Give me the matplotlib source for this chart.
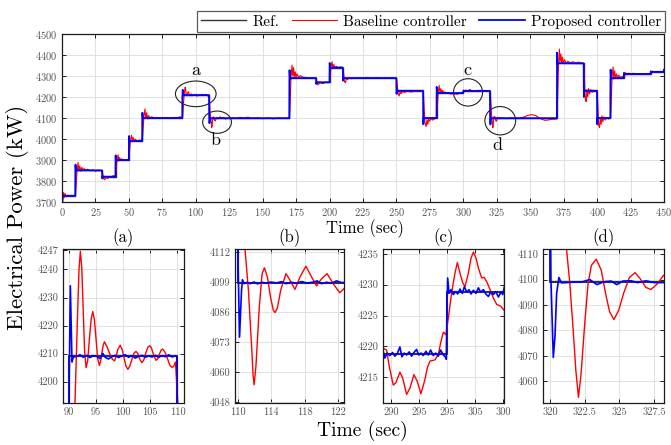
import numpy as np
import matplotlib
matplotlib.use('Agg')
import matplotlib.pyplot as plt
from matplotlib.patches import Ellipse

# LaTeX-like look
plt.rcParams['font.family'] = 'serif'
plt.rcParams['font.serif'] = ['cmr10']
plt.rcParams['mathtext.fontset'] = 'cm'
plt.rcParams['axes.formatter.use_mathtext'] = True

# Reference power set-points (kW), step-post
ref_t = [0, 10, 30, 40, 50, 60, 90, 110, 170, 190, 200, 210, 250, 270, 280, 300,
         320, 370, 390, 400, 410, 420, 440, 450]
ref_p = [3730, 3850, 3820, 3900, 3990, 4100, 4209, 4098.9, 4290, 4270, 4340, 4290,
         4230, 4100, 4218.8, 4228.9, 4098.9, 4360, 4230, 4100, 4290, 4310, 4320, 4320]

# Baseline controller, points
base_t = [0, 0.6, 1.2, 1.8, 2.4, 3.2, 4.2, 5.5, 7, 9.9,
          10.3, 11.2, 12.0, 12.6, 13.3, 14.0, 14.8, 15.6, 16.5, 17.5, 19, 21, 23, 25, 27, 29.9,
          30.4, 31.2, 32.0, 32.8, 34, 35.5, 37, 38.5, 39.9,
          40.3, 41.2, 41.9, 42.5, 43.1, 43.8, 44.6, 46, 48, 49.9,
          50.3, 51.2, 51.9, 52.5, 53.1, 53.8, 54.6, 56, 58, 59.9,
          60.3, 61.2, 62.0, 62.6, 63.3, 64.0, 64.8, 65.7, 67, 69, 72, 75, 78, 81, 84, 86, 88, 90.0,
          124, 126, 128, 130, 133, 136, 139, 142, 146, 150, 154, 158, 162, 166, 169.9,
          170.3, 171.2, 171.9, 172.5, 173.1, 173.7, 174.3, 175, 175.8, 176.8, 178, 180, 183, 186, 189.9,
          190.4, 191.2, 192, 193, 195, 197, 199.9,
          200.3, 201.2, 201.9, 202.5, 203.2, 204, 205, 206.5, 208, 209.9,
          210.4, 211.2, 211.9, 212.6, 213.3, 214.5, 216, 220, 224, 228, 232, 236, 240, 245, 249.9,
          250.4, 251.3, 252, 252.8, 253.5, 254.5, 256, 258, 261, 264, 267, 269.9,
          270.4, 271.3, 272.2, 272.8, 273.4, 274.1, 274.8, 275.8, 277, 278.5, 279.9,
          280.3, 281.2, 281.9, 282.5, 283.1, 283.8, 284.5, 285.3, 286.2, 287.2, 288.0,
          311, 312.5, 314, 316, 318, 319.9, 320.05,
          329, 330, 332, 335, 338, 342, 345, 348, 351, 354, 357, 359, 361, 363, 366, 369.9,
          370.4, 371.2, 371.8, 372.3, 372.9, 373.5, 374.1, 374.8, 375.7, 376.8, 378, 380, 382, 384, 386, 389.9,
          390.4, 391.2, 391.8, 392.4, 393, 393.6, 394.3, 395.2, 396.3, 397.5, 398.8, 399.9,
          400.4, 401.2, 401.8, 402.4, 403, 403.6, 404.3, 405, 406, 407.2, 408.5, 409.9,
          410.3, 411.2, 411.9, 412.5, 413.1, 413.8, 414.5, 415.3, 416.3, 417.5, 418.8, 419.9,
          420.5, 421.3, 422.3, 423.5, 425, 427, 430, 433, 436, 439.9,
          440.5, 441.5, 443, 445, 447, 450]
base_p = [3700, 3712, 3745, 3722, 3740, 3726, 3733, 3729, 3731, 3730,
          3760, 3840, 3888, 3848, 3872, 3846, 3865, 3850, 3860, 3852, 3856, 3850, 3853, 3847, 3852, 3849,
          3835, 3810, 3806, 3818, 3812, 3818, 3822, 3825, 3826,
          3840, 3905, 3925, 3895, 3912, 3897, 3906, 3898, 3902, 3899,
          3930, 3995, 4018, 3990, 4008, 3988, 4000, 3991, 3995, 3992,
          4020, 4105, 4143, 4098, 4125, 4096, 4112, 4097, 4106, 4099, 4102, 4098, 4101, 4097, 4103, 4100, 4106, 4101,
          4100, 4096, 4101, 4098, 4103, 4100, 4104, 4098, 4101, 4097, 4100, 4096, 4100, 4098, 4100,
          4140, 4290, 4352, 4300, 4340, 4290, 4320, 4295, 4310, 4293, 4302, 4295, 4292, 4290, 4291,
          4275, 4258, 4262, 4268, 4264, 4270, 4269,
          4290, 4345, 4368, 4335, 4355, 4337, 4346, 4340, 4343, 4340,
          4320, 4272, 4268, 4290, 4282, 4292, 4287, 4291, 4289, 4293, 4290, 4292, 4289, 4291, 4290,
          4270, 4212, 4205, 4228, 4215, 4226, 4222, 4227, 4224, 4228, 4226, 4229,
          4180, 4080, 4059, 4092, 4070, 4095, 4085, 4098, 4090, 4096, 4099,
          4130, 4220, 4255, 4222, 4240, 4218, 4232, 4219, 4225, 4218, 4221,
          4225.5, 4227, 4231, 4229, 4231, 4229, 4229,
          4099, 4100, 4097, 4101, 4099, 4100, 4104, 4112, 4116, 4112, 4100, 4093, 4089, 4090, 4094, 4095,
          4180, 4360, 4428, 4368, 4405, 4360, 4390, 4362, 4378, 4360, 4370, 4363, 4368, 4362, 4366, 4360,
          4300, 4190, 4178, 4235, 4200, 4240, 4215, 4235, 4222, 4232, 4226, 4230,
          4180, 4065, 4054, 4098, 4070, 4110, 4082, 4105, 4090, 4102, 4095, 4100,
          4140, 4295, 4343, 4285, 4325, 4290, 4310, 4292, 4304, 4293, 4298, 4291,
          4300, 4316, 4306, 4314, 4308, 4313, 4309, 4312, 4308, 4311,
          4312, 4323, 4318, 4321, 4319, 4321]

# Baseline controller, detail (a) 90-110 s
base_a_t = [91.1, 91.6, 91.85, 92.1, 92.36, 92.62, 92.88, 93.15, 93.45, 93.76, 94.07, 94.38,
            94.7, 95.0, 95.3, 95.62, 95.85, 96.1, 96.3, 96.54, 97.0, 97.5, 98.0, 98.4,
            98.7, 99.0, 99.44, 99.8, 100.15, 100.5, 100.86, 101.2, 101.6, 102.0, 102.35,
            102.7, 103.1, 103.46, 103.8, 104.2, 104.55, 104.88, 105.2, 105.6, 106.05,
            106.35, 106.7, 107.0, 107.28, 107.7, 108.2, 108.6, 109.01, 109.3, 109.63, 110.12]
base_a_p = [4192, 4225, 4240, 4246.5, 4240.5, 4226, 4211, 4205, 4207.5, 4215, 4222, 4225,
            4222, 4215, 4208, 4205.8, 4207.5, 4210.5, 4213, 4214.2, 4212.5, 4210, 4208, 4207.4,
            4209, 4211.5, 4213, 4211.5, 4208.5, 4205.5, 4204.4, 4205.5, 4208, 4210.2, 4210.8,
            4210, 4207.8, 4206.8, 4207.8, 4210.5, 4212.3, 4212.8, 4212, 4209.5, 4207.6,
            4208.2, 4210, 4211.3, 4211.6, 4210.5, 4208, 4205.8, 4205.1, 4205.5, 4207, 4190]

# Baseline controller, detail (b) 110-123 s
base_b_t = [110.9, 111.3, 111.7, 111.86, 111.98, 112.2, 112.6, 112.93, 113.21, 113.56, 113.96,
            114.28, 114.48, 114.75, 115.15, 115.78, 116.26, 116.85, 117.45, 118.16, 118.83,
            119.43, 120.02, 120.69, 121.4, 122.2, 122.71]
base_b_p = [4113, 4095.7, 4070.3, 4059, 4055, 4063.2, 4088.6, 4102.8, 4105.3, 4101.4, 4092.2,
            4087, 4086.1, 4088, 4095.7, 4102.8, 4100, 4096, 4101.4, 4106, 4101.4,
            4097.5, 4100.6, 4102.8, 4098.5, 4094.6, 4096.4]

# Baseline controller, detail (c) 289-310 s
base_c_t = [288.63, 289.23, 289.7, 290.42, 290.89, 291.6, 292.08, 292.79, 293.38, 294.09,
            294.69, 295.34, 296.05, 296.47, 296.94, 297.83, 298.43, 298.9, 299.32, 299.79,
            300.21, 300.8, 301.39, 301.81, 302.28, 302.76, 303.18, 303.77, 304.24, 304.66,
            305.13, 305.55, 306.14, 306.56, 307.03, 307.63, 308.22, 308.81, 309.53, 310.18]
base_c_p = [4219.7, 4219.4, 4216.8, 4213.7, 4214.1, 4215.8, 4214.9, 4212.2, 4213.2, 4215.4,
            4214.3, 4212.3, 4214.6, 4216.5, 4217.6, 4217.8, 4218.7, 4220.8, 4222.3, 4221.9,
            4224.6, 4228.7, 4231.9, 4233.6, 4231.9, 4230.3, 4229.7, 4231.9, 4234.3, 4235.3,
            4234.3, 4232.7, 4231.1, 4231.2, 4230.5, 4229.2, 4227.8, 4226.8, 4226.5, 4225.8]

# Baseline controller, detail (d) 320-328 s
base_d_t = [321.19, 321.43, 321.67, 321.86, 322.05, 322.24, 322.5, 322.74, 322.98, 323.33,
            323.69, 324.0, 324.29, 324.6, 324.95, 325.29, 325.71, 326.12, 326.48, 326.9,
            327.26, 327.74, 328.17]
base_d_p = [4112, 4098.4, 4080.1, 4064.4, 4053.7, 4063.1, 4082.7, 4098.4, 4105.6, 4108,
            4103.7, 4094.5, 4087.3, 4084.3, 4088, 4094.5, 4100.8, 4102.7, 4100.4, 4096.9,
            4096.1, 4098.4, 4101.7]

# Proposed controller, overview
prop_t = [0, 0.3, 0.5, 0.9, 9.95, 10.1, 10.4, 10.7, 29.95, 30.1, 30.4, 39.95, 40.1, 40.4, 40.7,
          49.95, 50.1, 50.4, 50.7, 59.95, 60.1, 60.4, 60.7, 89.95,
          169.95, 170.1, 170.4, 170.7, 189.95, 190.1, 190.4, 190.7, 199.95, 200.1, 200.4, 200.7,
          209.95, 210.1, 210.4, 210.7, 249.95, 250.1, 250.4, 250.7, 269.95, 270.1, 270.4, 270.7,
          279.95, 280.1, 280.4, 280.7, 319.9,
          369.95, 370.1, 370.4, 370.7, 389.95, 390.1, 390.4, 390.7, 399.95, 400.1, 400.4, 400.7,
          409.95, 410.1, 410.4, 410.7, 419.95, 420.1, 420.4, 439.95, 440.1, 440.4, 449.6, 450]
prop_p = [3700, 3700, 3733, 3729, 3730, 3878, 3846, 3851, 3850, 3812, 3821, 3820, 3922, 3897, 3900,
          3900, 4014, 3987, 3990, 3990, 4125, 4097, 4100, 4100,
          4099, 4328, 4286, 4290, 4290, 4262, 4271, 4270, 4270, 4362, 4337, 4340,
          4340, 4278, 4292, 4290, 4290, 4215, 4232, 4230, 4230, 4070, 4103, 4100,
          4100, 4248, 4216, 4219, 4229,
          4099, 4411, 4355, 4361, 4360, 4200, 4233, 4230, 4230, 4070, 4103, 4100,
          4100, 4330, 4287, 4290, 4290, 4315, 4310, 4310, 4322, 4320, 4320, 4330]

# Proposed controller, detail (a)
prop_a_t = [90.05, 90.25, 90.56, 90.8, 91.42, 92.04, 92.65, 93.27, 93.89, 94.51, 95.12, 95.74,
            96.23, 96.67, 97.28, 97.9, 98.52, 99.14, 99.75, 100.37, 100.99, 101.6, 102.22,
            102.84, 103.46, 104.07, 104.69, 105.31, 105.93, 106.54, 107.16, 107.78, 108.4,
            109.01, 109.63, 109.94]
prop_a_p = [4200, 4234.2, 4207, 4208.8, 4209.0, 4209.6, 4208.7, 4209.4, 4208.6, 4209.3, 4209.0, 4208.2,
            4210.1, 4208.7, 4208.1, 4208.9, 4209.4, 4208.6, 4209.2, 4209.6, 4208.7, 4209.3, 4208.4,
            4209.0, 4209.4, 4208.7, 4209.2, 4208.8, 4209.4, 4208.7, 4209.3, 4208.9, 4209.6,
            4208.8, 4209.2, 4209.0]

# Proposed controller, detail (b)
prop_b_t = [110.08, 110.24, 110.48, 110.59, 110.79, 111.11, 111.5, 111.98, 112.38, 112.89,
            113.41, 113.96, 114.67, 115.27, 115.78, 116.34, 117.05, 117.64, 118.24, 118.95,
            119.5, 120.02, 120.61, 121.21, 121.8, 122.4]
prop_b_p = [4105, 4075.5, 4095.7, 4100.2, 4098.5, 4099.1, 4098.5, 4099.2, 4098.4, 4099.1,
            4098.7, 4099.2, 4098.8, 4099.4, 4098.5, 4099.1, 4098.7, 4099.4, 4098.8, 4099.1,
            4099.7, 4098.5, 4099.1, 4098.7, 4099.7, 4099.0]

# Proposed controller, detail (c)
prop_c_t = [288.63, 288.93, 289.35, 289.82, 290.3, 290.71, 291.13, 291.6, 291.96, 292.37,
            292.79, 293.26, 293.68, 294.09, 294.57, 294.93, 295.34, 295.76, 296.23, 296.65,
            297.06, 297.54, 297.95, 298.43, 298.84, 299.32, 299.67, 299.85, 299.97, 300.09,
            300.33, 300.68, 301.1, 301.51, 301.87, 302.28, 302.7, 303.06, 303.47, 303.89,
            304.24, 304.66, 305.13, 305.55, 305.96, 306.44, 306.85, 307.33, 307.74, 308.22,
            308.63, 309.11, 309.53, 309.88, 310.18]
prop_c_p = [4219.2, 4218.1, 4218.9, 4218.5, 4219.0, 4218.4, 4218.8, 4219.9, 4218.3, 4218.9,
            4218.6, 4219.1, 4218.4, 4219.0, 4219.5, 4218.6, 4218.9, 4218.5, 4219.2, 4218.6,
            4219.4, 4218.5, 4218.9, 4218.4, 4219.4, 4218.6, 4218.3, 4217.9, 4226.5, 4231.1,
            4228.6, 4229.2, 4228.4, 4228.9, 4228.5, 4229.3, 4228.6, 4229.7, 4228.8, 4229.2,
            4228.5, 4229.1, 4228.6, 4229.5, 4228.8, 4229.2, 4228.5, 4228.1, 4228.8, 4228.4,
            4228.9, 4228.0, 4228.8, 4228.4, 4229.7]

# Proposed controller, detail (d)
prop_d_t = [320.07, 320.24, 320.36, 320.48, 320.64, 320.83, 321.19, 321.67, 322.33, 322.86,
            323.38, 323.86, 324.4, 324.81, 325.24, 325.83, 326.31, 326.9, 327.5, 328.17]
prop_d_p = [4100, 4069.4, 4077.5, 4094.5, 4100.8, 4098.7, 4098.8, 4099.0, 4099.1, 4100.0,
            4098.0, 4099.1, 4099.4, 4098.0, 4099.4, 4099.5, 4098.8, 4099.5, 4098.8, 4098.8]

# merge overview + details into full series
def merge(parts):
    t = np.concatenate([np.asarray(p[0], float) for p in parts])
    v = np.concatenate([np.asarray(p[1], float) for p in parts])
    idx = np.argsort(t, kind='stable')
    return t[idx], v[idx]

bt, bp = merge([(base_t, base_p), (base_a_t, base_a_p), (base_b_t, base_b_p),
                (base_c_t, base_c_p), (base_d_t, base_d_p)])
pt, pp = merge([(prop_t, prop_p), (prop_a_t, prop_a_p), (prop_b_t, prop_b_p),
                (prop_c_t, prop_c_p), (prop_d_t, prop_d_p)])

c_ref = '#333333'
c_base = '#ff0000'
c_prop = '#0000ff'
c_tick = '#555555'
W, H = 671, 445


def style(ax, size=7.5):
    ax.tick_params(direction='in', top=True, right=True, length=3, width=0.6,
                   labelsize=size, labelcolor=c_tick, pad=3)
    ax.grid(color='#dcdcdc', linewidth=0.6)
    ax.set_axisbelow(True)
    for s in ax.spines.values():
        s.set_linewidth(0.9)
        s.set_color('#1a1a1a')


fig = plt.figure(figsize=(W / 100, H / 100), dpi=100)

# ---- overview ----
ax = fig.add_axes([62 / W, 1 - 202 / H, 602 / W, 168 / H])
ax.step(ref_t, ref_p, where='post', color=c_ref, lw=1.0, label='Ref.')
ax.plot(bt, bp, color=c_base, lw=0.8, label='Baseline controller')
ax.plot(pt, pp, color=c_prop, lw=1.3, label='Proposed controller')
ax.set_xlim(0, 450)
ax.set_ylim(3700, 4500)
ax.set_xticks(np.arange(0, 451, 25))
ax.set_yticks(np.arange(3700, 4501, 100))
style(ax)

# zoom markers
for (cx, cy, w, h), (lx, ly, s) in zip(
        [(100.0, 4215, 30.4, 122), (115.9, 4080, 21.5, 106),
         (303.5, 4222, 21.7, 130), (327.6, 4087, 23, 135)],
        [(99.9, 4325, 'a'), (114.5, 3995, 'b'), (303.3, 4329, 'c'), (325.6, 3968, 'd')]):
    ax.add_patch(Ellipse((cx, cy), w, h, fill=False, edgecolor='#222222', lw=0.8))
    ax.text(lx, ly, s, ha='center', va='center', fontsize=13)

leg = ax.legend(loc='lower right', bbox_to_anchor=(1.005, 1.0), ncol=3, fontsize=11,
                frameon=True, fancybox=False, edgecolor='#333333', borderaxespad=0.1,
                handlelength=3.0, handletextpad=0.4, columnspacing=0.8, borderpad=0.25)
leg.get_frame().set_linewidth(0.9)

fig.text(365 / W, 1 - 229 / H, 'Time (sec)', ha='center', va='center', fontsize=12)

# ---- detail panels ----
panels = [
    ('(a)', 63, 121, (88.9, 111.2), (4192.4, 4247.3),
     [90, 95, 100, 105, 110], ['90', '95', '100', '105', '110'],
     [4200, 4210, 4220, 4230, 4240, 4247], ['4200', '4210', '4220', '4230', '4240', '4247']),
    ('(b)', 235, 109, (109.7, 122.7), (4047.2, 4113.4),
     [110, 114, 118, 122], ['110', '114', '118', '122'],
     [4047.5, 4060.4, 4073.3, 4086.2, 4099.1, 4112], ['4048', '4060', '4073', '4086', '4099', '4112']),
    ('(c)', 383, 121, (288.6, 310.1), (4210.8, 4235.8),
     [290, 295, 300, 305, 310], ['290', '295', '295', '305', '300'],
     [4215, 4220, 4225, 4230, 4235], ['4215', '4220', '4225', '4230', '4235']),
    ('(d)', 543, 121, (319.5, 328.2), (4051.5, 4112),
     [320, 322.5, 325, 327.5], ['320', '322.5', '325', '327.5'],
     [4060, 4070, 4080, 4090, 4100, 4110], ['4060', '4070', '4080', '4090', '4100', '4110']),
]
for title, x0, w, xl, yl, xt, xtl, yt, ytl in panels:
    a = fig.add_axes([x0 / W, 1 - 403 / H, w / W, 154 / H])
    a.step(ref_t, ref_p, where='post', color=c_ref, lw=1.5)
    a.plot(bt, bp, color=c_base, lw=1.0)
    a.plot(pt, pp, color=c_prop, lw=1.2)
    a.set_xlim(*xl)
    a.set_ylim(*yl)
    a.set_xticks(xt, xtl)
    a.set_yticks(yt, ytl)
    style(a)
    fig.text((x0 + w / 2) / W, 1 - 238 / H, title, ha='center', va='center', fontsize=12)

fig.text(362 / W, 1 - 431 / H, 'Time (sec)', ha='center', va='center', fontsize=14)
fig.text(18 / W, 1 - 217 / H, 'Electrical Power (kW)', ha='center', va='center',
         rotation=90, fontsize=16.5)

plt.savefig('out.png', dpi=100)
